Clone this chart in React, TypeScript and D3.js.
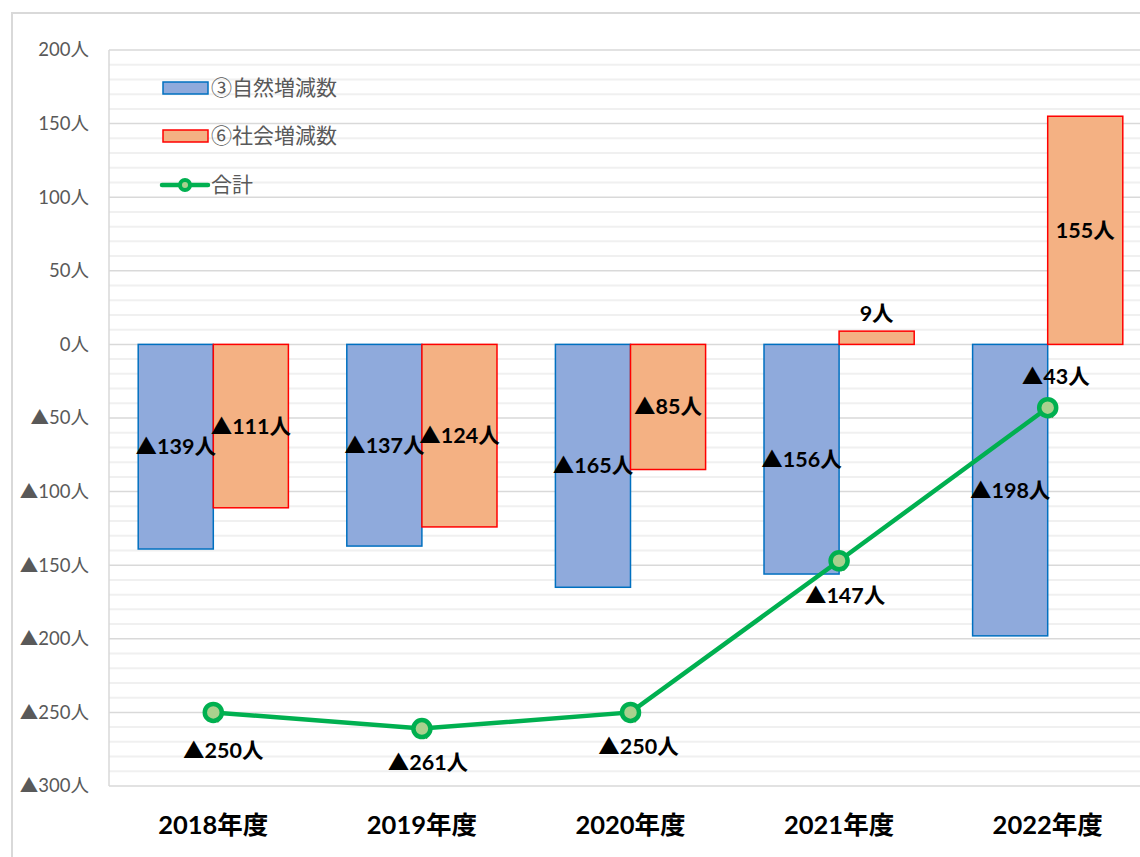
import React from 'react';
import * as d3 from 'd3';

const years = ['2018年度', '2019年度', '2020年度', '2021年度', '2022年度'];
const natural = [-139, -137, -165, -156, -198];
const social = [-111, -124, -85, 9, 155];
const total = [-250, -261, -250, -147, -43];
const yTicks = [200, 150, 100, 50, 0, -50, -100, -150, -200, -250, -300];

// hand-placed offsets for the total labels (as in the original)
const totalLabelDx = [10, 6, 8, 6, 8];
const totalLabelDy = [38, 34, 34, 35, -31];

const W = 1140;
const H = 857;
const plotLeft = 109;
const plotTop = 50;
const plotBottom = 786;
const plotRight = 1152;

const fmt = (v: number) => (v < 0 ? '▲' + Math.abs(v) + '人' : v + '人');
const font = "Lato, 'Noto Sans CJK JP', sans-serif";

const App: React.FC = () => {
  const x = d3.scaleBand().domain(years).range([plotLeft, plotRight]).paddingInner(0.28).paddingOuter(0.14);
  const y = d3.scaleLinear().domain([-300, 200]).range([plotBottom, plotTop]);
  const barW = x.bandwidth() / 2;
  const center = (d: string) => (x(d) as number) + x.bandwidth() / 2;
  const minor = d3.range(-300, 201, 10);

  const line = d3.line<number>()
    .x((_, i) => center(years[i]))
    .y(d => y(d));

  return (
    <svg width={W} height={H} style={{ position: 'absolute', left: 0, top: 0, background: '#fff' }} fontFamily={font}>
      <rect x={12} y={13} width={W} height={H} fill="#fff" stroke="#d9d9d9" strokeWidth={2} />
      {minor.map(v => (
        <line key={'m' + v} x1={plotLeft} x2={plotRight} y1={y(v)} y2={y(v)}
          stroke={v % 50 === 0 ? '#d9d9d9' : '#f0f0f0'} strokeWidth={v % 50 === 0 ? 1.5 : 2} />
      ))}
      <line x1={plotLeft} x2={plotLeft} y1={plotTop} y2={plotBottom} stroke="#d9d9d9" strokeWidth={1.5} />
      {yTicks.map(v => (
        <text key={'t' + v} x={89} y={y(v)} dy="0.35em" textAnchor="end" fontSize={18.5} fill="#595959">{fmt(v)}</text>
      ))}
      {years.map((yr, i) => (
        <g key={yr}>
          <rect x={x(yr) as number} width={barW} y={Math.min(y(0), y(natural[i]))}
            height={Math.abs(y(natural[i]) - y(0))} fill="#8FAADC" stroke="#0070C0" strokeWidth={1.5} />
          <rect x={center(yr)} width={barW} y={Math.min(y(0), y(social[i]))}
            height={Math.abs(y(social[i]) - y(0))} fill="#F4B183" stroke="#FF0000" strokeWidth={1.5} />
        </g>
      ))}
      <path d={line(total) as string} fill="none" stroke="#00B050" strokeWidth={4.5} />
      {total.map((v, i) => (
        <g key={'p' + i}>
          <line x1={center(years[i])} y1={y(v)} x2={center(years[i]) + 5} y2={y(v) + 10} stroke="#548235" strokeWidth={1.5} />
          <circle cx={center(years[i])} cy={y(v)} r={8.5} fill="#A9D18E" stroke="#00B050" strokeWidth={4.5} />
        </g>
      ))}
      {years.map((yr, i) => (
        <g key={'l' + yr} fontWeight="bold" fontSize={21.5} fill="#000" textAnchor="middle">
          <text x={center(yr) - barW / 2} y={y(natural[i] / 2)} dy="0.35em">{fmt(natural[i])}</text>
          <text x={center(yr) + barW / 2} y={social[i] > 0 && social[i] < 20 ? y(social[i]) - 18 : y(social[i] / 2)} dy="0.35em">{fmt(social[i])}</text>
          <text x={center(yr) + totalLabelDx[i]} y={y(total[i]) + totalLabelDy[i]} dy="0.35em">{fmt(total[i])}</text>
          <text x={center(yr)} y={825} dy="0.35em" fontSize={25.5}>{yr}</text>
        </g>
      ))}
      <g fontSize={21} fill="#595959" fontFamily="'Noto Sans CJK JP', sans-serif">
        <rect x={163} y={82} width={45} height={12} fill="#8FAADC" stroke="#0070C0" strokeWidth={1.5} />
        <text x={211} y={88} dy="0.35em">③自然増減数</text>
        <rect x={163} y={130} width={45} height={12} fill="#F4B183" stroke="#FF0000" strokeWidth={1.5} />
        <text x={211} y={136} dy="0.35em">⑥社会増減数</text>
        <line x1={162} x2={208} y1={185} y2={185} stroke="#00B050" strokeWidth={4.5} strokeLinecap="round" />
        <circle cx={185} cy={185} r={5} fill="#A9D18E" stroke="#00B050" strokeWidth={4} />
        <text x={211} y={185} dy="0.35em">合計</text>
      </g>
    </svg>
  );
};

export default App;
